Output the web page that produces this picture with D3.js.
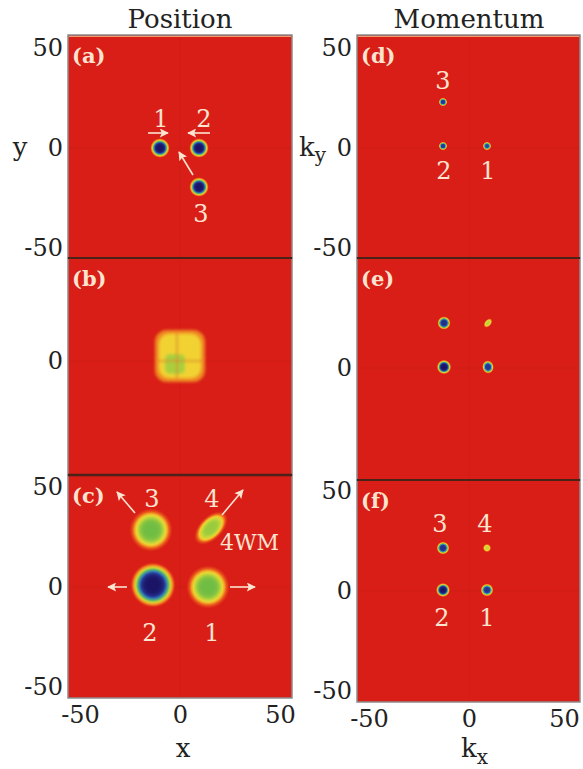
<!DOCTYPE html>
<html>
<head>
<meta charset="utf-8">
<script src="https://cdn.jsdelivr.net/npm/d3@7"></script>
<style>
  body { margin: 0; background: #fff; }
  svg { display: block; }
  text { font-family: "DejaVu Serif", serif; }
</style>
</head>
<body>
<div id="chart"></div>
<script>
// ---- data ----
const panelIds = ["a", "b", "c", "d", "e", "f"];
const panelNames = ["(a)", "(b)", "(c)", "(d)", "(e)", "(f)"];
const columnTitles = ["Position", "Momentum"];
const tickValues = [-50, 0, 50];
const yTicksShown = {a: [50, 0, -50], b: [0], c: [50, 0, -50], d: [50, 0, -50], e: [0], f: [50, 0, -50]};

// blobs: centre (x, y), radius r (ry for ellipses), rotation angle, peak density (1 = dark blue)
const blobsA = [
    {x: -10, y: 0, r: 5, peak: 1},
    {x: 9.5, y: 0, r: 5, peak: 1},
    {x: 9.5, y: -19.5, r: 5, peak: 1}
];
const blobB = {x: 0, y: 2.5, w: 25, h: 26, coreX: -2.5, coreY: -1.5, core: 10};
const blobsC = [
    {x: -14.5, y: 28.5, r: 11, peak: 0.56},
    {x: 15.5, y: 29.5, r: 10.5, ry: 6, angle: -45, peak: 0.5},
    {x: -13.5, y: 1, r: 11.5, peak: 1},
    {x: 14, y: 0, r: 11, peak: 0.56}
];
const blobsD = [
    {x: -13, y: 23, r: 2.2, peak: 0.9},
    {x: -13, y: 1, r: 2.2, peak: 0.9},
    {x: 9, y: 1, r: 2.2, peak: 0.85}
];
const blobsE = [
    {x: -12.5, y: 22.5, r: 3.4, peak: 0.92},
    {x: 9.5, y: 22.5, r: 2.8, ry: 1.8, angle: -50, peak: 0.45},
    {x: -12.5, y: 0.5, r: 3.7, peak: 1},
    {x: 9.5, y: 0.5, r: 3.4, ry: 3.0, angle: 80, peak: 0.9}
];
const blobsF = [
    {x: -13, y: 21.5, r: 3.3, peak: 0.92},
    {x: 9, y: 21.5, r: 2.2, peak: 0.42},
    {x: -13, y: 0.5, r: 3.6, peak: 1},
    {x: 9, y: 0.5, r: 3.3, peak: 0.9}
];

// arrows (from -> to) and number labels, in panel units
const arrowsA = [
    {x1: -16, y1: 7.5, x2: -6, y2: 7.5},
    {x1: 15, y1: 7.5, x2: 4, y2: 7.5},
    {x1: 6.5, y1: -13.5, x2: -0.5, y2: -2}
];
const arrowsC = [
    {x1: -26.5, y1: 0, x2: -36, y2: 0},
    {x1: 25, y1: 0, x2: 37.5, y2: 0},
    {x1: -22.5, y1: 37, x2: -31.5, y2: 47.5},
    {x1: 21, y1: 36, x2: 31.5, y2: 48.5}
];
const labelsA = [
    {t: "1", x: -9.5, y: 15}, {t: "2", x: 12, y: 15}, {t: "3", x: 10.5, y: -32.5}
];
const labelsC = [
    {t: "3", x: -14, y: 44.5}, {t: "4", x: 16, y: 44.5},
    {t: "2", x: -15, y: -22.5}, {t: "1", x: 16, y: -22.5},
    {t: "4WM", x: 20, y: 22.5, anchor: "start"}
];
const labelsD = [
    {t: "3", x: -13, y: 34}, {t: "2", x: -12.5, y: -11}, {t: "1", x: 9.5, y: -11}
];
const labelsF = [
    {t: "3", x: -14.5, y: 34}, {t: "4", x: 8, y: 34},
    {t: "2", x: -13.5, y: -13}, {t: "1", x: 9, y: -13}
];

const blobsByPanel = {a: blobsA, c: blobsC, d: blobsD, e: blobsE, f: blobsF};
const arrowsByPanel = {a: arrowsA, c: arrowsC};
const labelsByPanel = {a: labelsA, c: labelsC, d: labelsD, f: labelsF};

// ---- layout ----
const W = 583, H = 769;
const layout = {
    a: {left: 68, right: 292, top: 35, bottom: 258, x0: 180, y0: 148},
    b: {left: 68, right: 292, top: 258, bottom: 475, x0: 180, y0: 361},
    c: {left: 68, right: 292, top: 475, bottom: 698, x0: 180, y0: 587},
    d: {left: 357, right: 580, top: 35, bottom: 258, x0: 469, y0: 148},
    e: {left: 357, right: 580, top: 258, bottom: 480, x0: 469, y0: 368},
    f: {left: 357, right: 580, top: 480, bottom: 702, x0: 469, y0: 591}
};
const RED = "#d81e16";
const INK = "#fde4d0";

const cmap = d3.scaleLinear()
    .domain([0, 0.1, 0.2, 0.32, 0.45, 0.58, 0.7, 0.84, 1])
    .range(["#d81e16", "#e6451a", "#f28c22", "#f4d531", "#bcd63a", "#62b846", "#3fb3c9", "#2a48a8", "#1b1466"])
    .clamp(true);

const svg = d3.select("#chart").append("svg")
    .attr("width", W)
    .attr("height", H);

const defs = svg.append("defs");

defs.append("marker")
    .attr("id", "head")
    .attr("viewBox", "0 0 10 10")
    .attr("refX", 9)
    .attr("refY", 5)
    .attr("markerUnits", "userSpaceOnUse")
    .attr("markerWidth", 10)
    .attr("markerHeight", 9)
    .attr("orient", "auto")
    .append("path")
    .attr("d", "M0,0 L10,5 L0,10 L2,5 z")
    .attr("fill", INK);

defs.append("filter")
    .attr("id", "soft")
    .attr("x", "-30%").attr("y", "-30%").attr("width", "160%").attr("height", "160%")
    .append("feGaussianBlur")
    .attr("stdDeviation", 1.8);

// column titles
svg.selectAll("text.title")
    .data(columnTitles)
    .join("text")
    .attr("class", "title")
    .attr("x", (d, i) => i === 0 ? 180 : 469)
    .attr("y", 28)
    .attr("text-anchor", "middle")
    .attr("font-size", 26)
    .attr("fill", "#222")
    .text(d => d);

let gradId = 0;

panelIds.forEach((id, pi) => {
    const p = layout[id];
    const xs = d3.scaleLinear().domain([-50, 50]).range([p.x0 - 100, p.x0 + 100]);
    const ys = d3.scaleLinear().domain([-50, 50]).range([p.y0 + 100, p.y0 - 100]);

    const g = svg.append("g");
    const clipId = "clip-" + id;
    defs.append("clipPath").attr("id", clipId)
        .append("rect")
        .attr("x", p.left).attr("y", p.top)
        .attr("width", p.right - p.left).attr("height", p.bottom - p.top);

    g.append("rect")
        .attr("x", p.left).attr("y", p.top)
        .attr("width", p.right - p.left).attr("height", p.bottom - p.top)
        .attr("fill", RED);

    const inner = g.append("g").attr("clip-path", `url(#${clipId})`);

    // faint grid seams at x=0, y=0
    inner.append("line")
        .attr("x1", xs(0)).attr("x2", xs(0)).attr("y1", p.top).attr("y2", p.bottom)
        .attr("stroke", "#b81a12").attr("stroke-opacity", 0.25);
    inner.append("line")
        .attr("x1", p.left).attr("x2", p.right).attr("y1", ys(0)).attr("y2", ys(0))
        .attr("stroke", "#b81a12").attr("stroke-opacity", 0.25);

    // blobs
    const blobs = blobsByPanel[id] || [];
    blobs.forEach(b => {
        const gid = "grad" + (gradId++);
        const grad = defs.append("radialGradient").attr("id", gid);
        d3.range(0, 13).forEach(i => {
            const t = i / 12;
            const level = b.peak * Math.exp(-Math.pow(t / 0.77, 5));
            grad.append("stop")
                .attr("offset", t)
                .attr("stop-color", cmap(level))
                .attr("stop-opacity", i === 12 ? 0 : 1);
        });
        const rx = b.r * 2, ry = (b.ry || b.r) * 2;
        inner.append("ellipse")
            .attr("cx", 0).attr("cy", 0)
            .attr("rx", rx).attr("ry", ry)
            .attr("transform", `translate(${xs(b.x)},${ys(b.y)}) rotate(${b.angle || 0})`)
            .attr("fill", `url(#${gid})`);
    });

    // squarish interference blob in (b)
    if (id === "b") {
        const cx = xs(blobB.x), cy = ys(blobB.y);
        const w = blobB.w * 2, h = blobB.h * 2;
        const bg = inner.append("g").attr("filter", "url(#soft)");
        bg.append("rect")
            .attr("x", cx - w / 2).attr("y", cy - h / 2)
            .attr("width", w).attr("height", h).attr("rx", 12)
            .attr("fill", "#f08a22");
        bg.append("rect")
            .attr("x", cx - w / 2 + 4).attr("y", cy - h / 2 + 4)
            .attr("width", w - 8).attr("height", h - 8).attr("rx", 10)
            .attr("fill", "#f2d232");
        bg.append("rect")
            .attr("x", xs(blobB.coreX) - blobB.core).attr("y", ys(blobB.coreY) - blobB.core)
            .attr("width", blobB.core * 2).attr("height", blobB.core * 2).attr("rx", 5)
            .attr("fill", "#a9cf3c");
        bg.append("line")
            .attr("x1", cx - w / 2 + 4).attr("x2", cx + w / 2 - 4)
            .attr("y1", ys(0)).attr("y2", ys(0))
            .attr("stroke", "#d88a2a").attr("stroke-width", 1.5);
        bg.append("line")
            .attr("x1", xs(-1.5)).attr("x2", xs(-1.5))
            .attr("y1", cy - h / 2 + 4).attr("y2", cy + h / 2 - 4)
            .attr("stroke", "#d88a2a").attr("stroke-width", 1.5);
    }

    // arrows
    (arrowsByPanel[id] || []).forEach(a => {
        inner.append("line")
            .attr("x1", xs(a.x1)).attr("y1", ys(a.y1))
            .attr("x2", xs(a.x2)).attr("y2", ys(a.y2))
            .attr("stroke", INK)
            .attr("stroke-width", 1.6)
            .attr("marker-end", "url(#head)");
    });

    // number labels
    inner.selectAll("text.num")
        .data(labelsByPanel[id] || [])
        .join("text")
        .attr("class", "num")
        .attr("x", d => xs(d.x))
        .attr("y", d => ys(d.y))
        .attr("dy", "0.36em")
        .attr("text-anchor", d => d.anchor || "middle")
        .attr("font-size", d => d.t.length > 1 ? 22 : 24)
        .attr("fill", INK)
        .text(d => d.t);

    // panel letter
    g.append("text")
        .attr("x", p.left + 4)
        .attr("y", p.top + 28)
        .attr("font-size", 21)
        .attr("font-weight", "bold")
        .attr("fill", INK)
        .text(panelNames[pi]);

    // frame
    g.append("rect")
        .attr("x", p.left).attr("y", p.top)
        .attr("width", p.right - p.left).attr("height", p.bottom - p.top)
        .attr("fill", "none")
        .attr("stroke", "#8c8c8c")
        .attr("stroke-width", 1.5);
    if (p.top > 40) {
        g.append("line")
            .attr("x1", p.left).attr("x2", p.right)
            .attr("y1", p.top).attr("y2", p.top)
            .attr("stroke", "#4a2218")
            .attr("stroke-width", id === "c" ? 2.5 : 2);
    } else {
        g.append("line")
            .attr("x1", p.left + 1).attr("x2", p.right - 1)
            .attr("y1", p.top + 1.5).attr("y2", p.top + 1.5)
            .attr("stroke", "#f0a070")
            .attr("stroke-width", 1);
    }

    // y axis tick labels
    const yAxis = d3.axisLeft(ys)
        .tickValues(yTicksShown[id])
        .tickSize(0)
        .tickPadding(5)
        .tickFormat(d3.format("d"));
    const yg = svg.append("g")
        .attr("transform", `translate(${p.left},0)`)
        .call(yAxis);
    yg.select(".domain").remove();
    yg.selectAll("text")
        .attr("font-family", "DejaVu Serif, serif")
        .attr("font-size", 24)
        .attr("fill", "#222")
        .text(d => d < 0 ? "-" + Math.abs(d) : d);

    // x axis tick labels on bottom row
    if (id === "c" || id === "f") {
        const xAxis = d3.axisBottom(xs)
            .tickValues(tickValues)
            .tickSize(0)
            .tickPadding(8);
        const xg = svg.append("g")
            .attr("transform", `translate(0,${p.bottom})`)
            .call(xAxis);
        xg.select(".domain").remove();
        xg.selectAll("text")
            .attr("font-family", "DejaVu Serif, serif")
            .attr("font-size", 24)
            .attr("fill", "#222")
            .attr("dx", d => (id === "f" && d === 50) ? -5 : 0)
            .text(d => d < 0 ? "-" + Math.abs(d) : d);
    }
});

// axis names
svg.append("text")
    .attr("x", 20).attr("y", 148)
    .attr("dy", "0.3em")
    .attr("text-anchor", "middle")
    .attr("font-size", 26)
    .attr("fill", "#222")
    .text("y");

const ky = svg.append("text")
    .attr("x", 299).attr("y", 148)
    .attr("dy", "0.3em")
    .attr("font-size", 26)
    .attr("fill", "#222");
ky.append("tspan").text("k");
ky.append("tspan").attr("font-size", 20).attr("dy", 6).text("y");

svg.append("text")
    .attr("x", 183).attr("y", 757)
    .attr("text-anchor", "middle")
    .attr("font-size", 26)
    .attr("fill", "#222")
    .text("x");

const kx = svg.append("text")
    .attr("x", 461).attr("y", 757)
    .attr("font-size", 26)
    .attr("fill", "#222");
kx.append("tspan").text("k");
kx.append("tspan").attr("font-size", 20).attr("dy", 7).text("x");
</script>
</body>
</html>
